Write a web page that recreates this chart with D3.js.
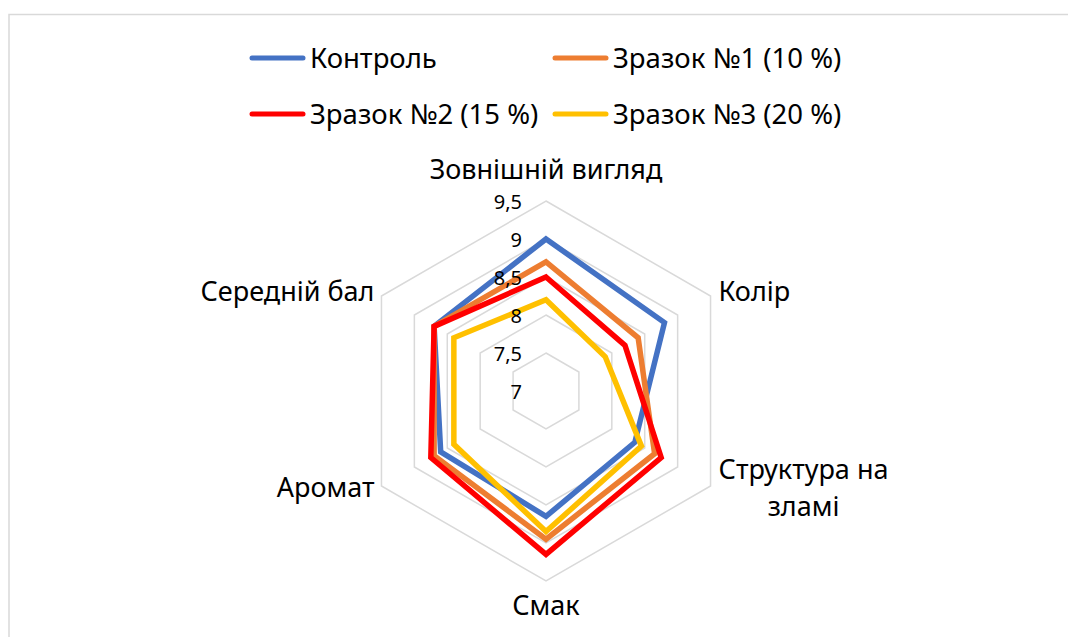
<!DOCTYPE html>
<html>
<head>
<meta charset="utf-8">
<script src="https://cdn.jsdelivr.net/npm/d3@7"></script>
<style>
    body { margin: 0; background: #fff; }
    text { font-family: "Noto Sans", sans-serif; fill: #000; }
</style>
</head>
<body>
<div id="chart"></div>
<script>

// categories, clockwise from the top
let categories = ["Зовнішній вигляд", "Колір", "Структура на зламі", "Смак", "Аромат", "Середній бал"];

let seriesNames = ["Контроль", "Зразок №1 (10 %)", "Зразок №2 (15 %)", "Зразок №3 (20 %)"];
let seriesColors = ["#4472C4", "#ED7D31", "#FF0000", "#FFC000"];

let control = [9.0, 8.8, 8.35, 8.65, 8.6, 8.7];
let sample1 = [8.7, 8.4, 8.65, 8.95, 8.7, 8.7];
let sample2 = [8.5, 8.2, 8.75, 9.15, 8.75, 8.7];
let sample3 = [8.2, 7.9, 8.45, 8.85, 8.4, 8.4];

let ticks = [7, 7.5, 8, 8.5, 9, 9.5];

let width = 1068, height = 637;
let cx = 546, cy = 391, radius = 190;

let svg = d3.select("#chart").append("svg")
    .attr("width", width)
    .attr("height", height);

// chart area border (only top and left fall inside the picture)
svg.append("rect")
    .attr("x", 9)
    .attr("y", 14.5)
    .attr("width", width + 20)
    .attr("height", height + 20)
    .attr("fill", "none")
    .attr("stroke", "#d9d9d9")
    .attr("stroke-width", 1.5);

let r = d3.scaleLinear()
    .domain([d3.min(ticks), d3.max(ticks)])
    .range([0, radius]);

let angle = d3.scalePoint()
    .domain(categories)
    .range([0, 2 * Math.PI * (categories.length - 1) / categories.length]);

let g = svg.append("g")
    .attr("transform", `translate(${cx},${cy})`);

// grid hexagons
let gridLine = d3.lineRadial()
    .angle(d => angle(d.cat))
    .radius(d => r(d.v))
    .curve(d3.curveLinearClosed);

g.selectAll(".grid")
    .data(ticks.filter(t => t > d3.min(ticks)))
    .enter().append("path")
    .attr("class", "grid")
    .attr("d", t => gridLine(categories.map(c => ({cat: c, v: t}))))
    .attr("fill", "none")
    .attr("stroke", "#d9d9d9")
    .attr("stroke-width", 1.5);

// series
let allSeries = [control, sample1, sample2, sample3];

let seriesLine = d3.lineRadial()
    .angle((d, i) => angle(categories[i]))
    .radius(d => r(d))
    .curve(d3.curveLinearClosed);

g.selectAll(".series")
    .data(allSeries)
    .enter().append("path")
    .attr("class", "series")
    .attr("d", d => seriesLine(d))
    .attr("fill", "none")
    .attr("stroke", (d, i) => seriesColors[i])
    .attr("stroke-width", 5.5)
    .attr("stroke-linejoin", "miter");

// tick labels on the top axis
g.selectAll(".tick-label")
    .data(ticks)
    .enter().append("text")
    .attr("class", "tick-label")
    .attr("x", -24)
    .attr("y", t => -r(t))
    .attr("dy", "0.4em")
    .attr("text-anchor", "end")
    .style("font-size", "20px")
    .text(t => d3.format(".1~f")(t).replace(".", ","));

// category labels
let pt = c => {
    let a = angle(c);
    return [Math.sin(a) * radius, -Math.cos(a) * radius];
};

let labelPlace = {
    "Зовнішній вигляд": {dx: 0, dy: -31, anchor: "middle"},
    "Колір": {dx: 8, dy: -4, anchor: "start"},
    "Структура на зламі": {dx: 93, dy: 2, anchor: "middle"},
    "Смак": {dx: 0, dy: 25, anchor: "middle"},
    "Аромат": {dx: -7, dy: 2, anchor: "end"},
    "Середній бал": {dx: -7, dy: -4, anchor: "end"}
};

categories.forEach(c => {
    let p = pt(c), s = labelPlace[c];
    let words = c === "Структура на зламі" ? ["Структура на", "зламі"] : [c];
    let t = g.append("text")
        .attr("class", "cat-label")
        .attr("text-anchor", s.anchor)
        .style("font-size", "27px");
    words.forEach((w, k) => {
        t.append("tspan")
            .attr("x", p[0] + s.dx)
            .attr("y", p[1] + s.dy + (k - (words.length - 1) / 2) * 37)
            .attr("dy", "0.35em")
            .text(w);
    });
});

// legend
let legendX = [250, 553];
let legendY = [58, 114];

let legend = svg.selectAll(".legend")
    .data(seriesNames)
    .enter().append("g")
    .attr("class", "legend")
    .attr("transform", (d, i) => `translate(${legendX[i % 2]},${legendY[Math.floor(i / 2)]})`);

legend.append("line")
    .attr("x1", 2)
    .attr("x2", 53)
    .attr("stroke", (d, i) => seriesColors[i])
    .attr("stroke-width", 5)
    .attr("stroke-linecap", "round");

legend.append("text")
    .attr("x", 60)
    .attr("dy", "0.35em")
    .style("font-size", "27.5px")
    .text(d => d);

</script>
</body>
</html>
